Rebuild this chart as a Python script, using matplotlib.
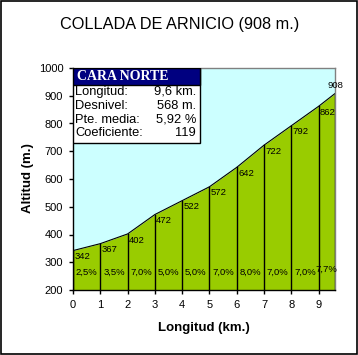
import matplotlib.pyplot as plt
from matplotlib.patches import Rectangle

# datos del perfil
km = [0, 1, 2, 3, 4, 5, 6, 7, 8, 9, 9.6]
altitud = [342, 367, 402, 472, 522, 572, 642, 722, 792, 862, 908]
pendientes = ['2,5%', '3,5%', '7,0%', '5,0%', '5,0%', '7,0%', '8,0%', '7,0%', '7,0%', '7,7%']
x_ticks = [0, 1, 2, 3, 4, 5, 6, 7, 8, 9]
y_ticks = [200, 300, 400, 500, 600, 700, 800, 900, 1000]

titulo = 'COLLADA DE ARNICIO (908 m.)'
info_titulo = 'CARA NORTE'
info_nombres = ['Longitud:', 'Desnivel:', 'Pte. media:', 'Coeficiente:']
info_valores = ['9,6 km.', '568 m.', '5,92 %', '119']

plt.rcParams['font.family'] = ['Liberation Sans', 'DejaVu Sans']

fig = plt.figure(figsize=(3.58, 3.55), dpi=100)
fig.patch.set_facecolor('white')
# marco exterior
fig.patches.append(Rectangle((0.0015, 0.0015), 0.997, 0.997, transform=fig.transFigure,
                             fill=False, edgecolor='black', linewidth=1.2))

ax = fig.add_axes([73 / 358, 1 - 290 / 355, 262 / 358, 222 / 355])
ax.set_facecolor('#CCFFFF')

# relleno verde bajo el perfil
ax.fill_between(km, altitud, 200, color='#99CC00', linewidth=0)
ax.plot(km, altitud, color='black', linewidth=0.8)

# lineas verticales en cada punto
for x, y in zip(km, altitud):
    ax.plot([x, x], [200, y], color='black', linewidth=1.0)

# etiquetas de altitud
for x, y in zip(km[:-1], altitud[:-1]):
    ax.text(x + 0.05, y - 6, str(y), fontsize=6.8, ha='left', va='top')
ax.text(km[-1], altitud[-1] + 12, str(altitud[-1]), fontsize=6.8, ha='center', va='bottom')

# etiquetas de pendiente
for i, p in enumerate(pendientes):
    xm = (km[i] + km[i + 1]) / 2
    yp = 265 if i < len(pendientes) - 1 else 276
    ax.text(xm, yp, p, fontsize=6.8, ha='center', va='center')

ax.set_xlim(0, 9.6)
ax.set_ylim(200, 1000)
ax.set_xticks(x_ticks)
ax.set_yticks(y_ticks)
ax.tick_params(direction='out', length=3, width=1, labelsize=8, pad=4)

for s in ['top', 'right']:
    ax.spines[s].set_color('#808080')
    ax.spines[s].set_linewidth(1)
for s in ['left', 'bottom']:
    ax.spines[s].set_color('black')
    ax.spines[s].set_linewidth(1)

# cuadro de informacion
ax.add_patch(Rectangle((0, 0.662), 0.485, 0.338, transform=ax.transAxes,
                       facecolor='white', edgecolor='black', linewidth=1, zorder=5))
ax.add_patch(Rectangle((0, 0.923), 0.485, 0.077, transform=ax.transAxes,
                       facecolor='#000080', edgecolor='black', linewidth=1, zorder=6))
ax.text(0.015, 0.962, info_titulo, transform=ax.transAxes, color='white',
        fontsize=10, fontweight='bold', family='Liberation Serif', va='center', zorder=7)
filas_y = [0.892, 0.829, 0.768, 0.707]
for nombre, valor, fy in zip(info_nombres, info_valores, filas_y):
    ax.text(0.008, fy, nombre, transform=ax.transAxes, fontsize=9.3, va='center', zorder=7)
    ax.text(0.47, fy, valor, transform=ax.transAxes, fontsize=9.3, va='center', ha='right', zorder=7)

fig.text(180 / 358, 1 - 24 / 355, titulo, fontsize=11.7, ha='center', va='center')
fig.text(28 / 358, 1 - 178 / 355, 'Altitud (m.)', fontsize=9.5, fontweight='bold',
         rotation=90, ha='center', va='center')
fig.text(204 / 358, 1 - 328 / 355, 'Longitud (km.)', fontsize=9.5, fontweight='bold',
         ha='center', va='center')

fig.savefig('out.png', dpi=100)
